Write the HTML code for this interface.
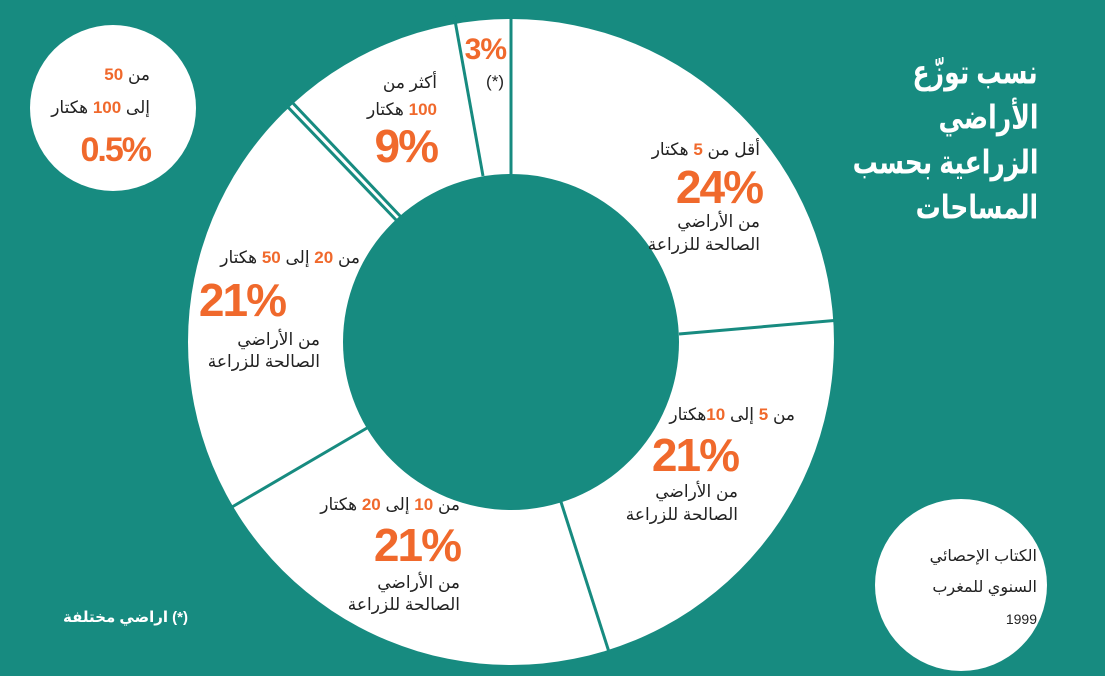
<!DOCTYPE html>
<html><head><meta charset="utf-8"><style>
body{margin:0;width:1105px;height:676px;overflow:hidden;background:#178b80;position:relative;font-family:"Liberation Sans","DejaVu Sans",sans-serif}
svg{position:absolute;left:0;top:0}
.t{position:absolute;direction:rtl;text-align:right;white-space:nowrap;color:#222;font-size:17px;line-height:20px;transform:translateY(-50%)}
.o{color:#f0692c;font-weight:bold;font-family:"Liberation Sans Narrow","Liberation Sans",sans-serif}
.big{position:absolute;color:#f0692c;font-weight:bold;font-family:"Liberation Sans Narrow","Liberation Sans",sans-serif;font-size:46px;line-height:46px;transform:translateY(-50%);letter-spacing:-2px;white-space:nowrap}
.w{color:#fff;font-weight:bold;font-size:33px;line-height:45px;transform:translateY(-50%) scaleX(0.76);transform-origin:right center}
</style></head><body>
<svg width="1105" height="676">
<circle cx="511" cy="342" r="323" fill="#fff"/>
<circle cx="511" cy="342" r="168" fill="#178b80"/>
<g stroke="#178b80" stroke-width="3">
<line x1="511" y1="174" x2="511" y2="15"/>
<line x1="679" y1="334" x2="840" y2="320"/>
<line x1="561" y1="502" x2="609" y2="652"/>
<line x1="367" y1="428" x2="232" y2="507"/>
<line x1="398" y1="222" x2="284" y2="103"/>
<line x1="402" y1="218" x2="289" y2="99"/>
<line x1="483" y1="176" x2="454" y2="15"/>
<line x1="180" y1="102" x2="286" y2="102"/>
</g>
<circle cx="113" cy="108" r="83" fill="#fff"/>
<circle cx="961" cy="585" r="86" fill="#fff"/>
</svg>
<div class="t w" style="right:67px;top:72px">نسب توزّع</div>
<div class="t w" style="right:67px;top:117px">الأراضي</div>
<div class="t w" style="right:67px;top:162px">الزراعية بحسب</div>
<div class="t w" style="right:67px;top:207px">المساحات</div>

<div class="t" style="right:345px;top:150px">أقل من <span class="o">5</span> هكتار</div>
<div class="big" style="right:343px;top:187px">24%</div>
<div class="t" style="right:345px;top:222px">من الأراضي</div>
<div class="t" style="right:345px;top:245px">الصالحة للزراعة</div>

<div class="t" style="right:310px;top:415px">من <span class="o">5</span> إلى <span class="o">10</span>هكتار</div>
<div class="big" style="right:367px;top:455px">21%</div>
<div class="t" style="right:367px;top:492px">من الأراضي</div>
<div class="t" style="right:367px;top:515px">الصالحة للزراعة</div>

<div class="t" style="right:645px;top:505px">من <span class="o">10</span> إلى <span class="o">20</span> هكتار</div>
<div class="big" style="right:645px;top:545px">21%</div>
<div class="t" style="right:645px;top:583px">من الأراضي</div>
<div class="t" style="right:645px;top:605px">الصالحة للزراعة</div>

<div class="t" style="right:745px;top:258px">من <span class="o">20</span> إلى <span class="o">50</span> هكتار</div>
<div class="big" style="right:820px;top:300px">21%</div>
<div class="t" style="right:785px;top:340px">من الأراضي</div>
<div class="t" style="right:785px;top:362px">الصالحة للزراعة</div>

<div class="t" style="right:668px;top:83px">أكثر من</div>
<div class="t" style="right:668px;top:110px"><span class="o">100</span> هكتار</div>
<div class="big" style="right:668px;top:146px">9%</div>

<div class="big" style="right:599px;top:50px;font-size:30px;letter-spacing:-1px">3%</div>
<div class="t" style="right:601px;top:82px">(*)</div>

<div class="t" style="right:955px;top:75px">من <span class="o">50</span></div>
<div class="t" style="right:955px;top:108px">إلى <span class="o">100</span> هكتار</div>
<div class="big" style="right:955px;top:150px;font-size:34px">0.5%</div>

<div class="t" style="right:68px;top:557px;font-size:16px">الكتاب الإحصائي</div>
<div class="t" style="right:68px;top:588px;font-size:16px">السنوي للمغرب</div>
<div class="t" style="right:68px;top:619px;font-size:14px">1999</div>

<div class="t" style="right:917px;top:618px;color:#fff;font-weight:bold;font-size:15px">(*) اراضي مختلفة</div>
</body></html>
